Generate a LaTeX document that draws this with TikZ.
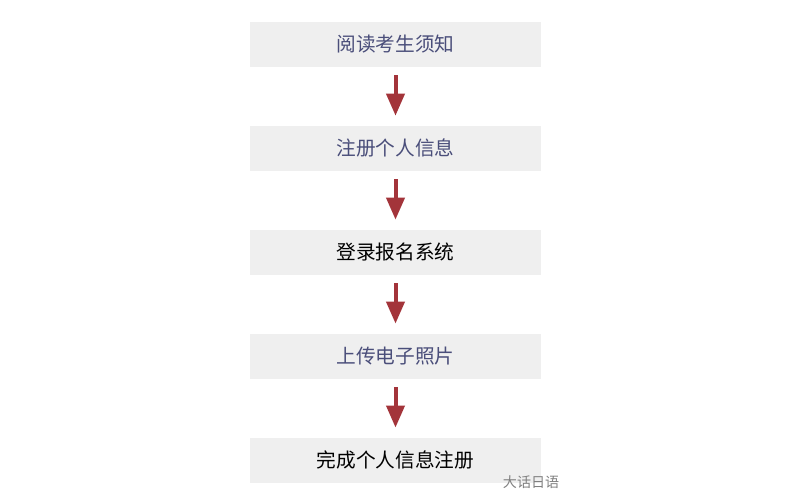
\documentclass[tikz,border=0pt]{standalone}
\usepackage{fontspec}
\newfontfamily\cjk{Noto Sans CJK SC}
\usetikzlibrary{positioning,arrows.meta}
\definecolor{boxgray}{HTML}{EFEFEF}
\definecolor{stepblue}{HTML}{4A4E7A}
\definecolor{arrowred}{HTML}{A3343A}
\begin{document}
\begin{tikzpicture}[
    stage/.style={fill=boxgray,minimum width=7.275cm,minimum height=1.125cm,inner sep=0pt,font=\cjk\fontsize{14}{16}\selectfont},
    flow/.style={draw=arrowred,line width=0.1cm,-{Triangle[length=0.55cm,width=0.45cm]},shorten <=0.2cm,shorten >=0.25cm}
  ]
  \useasboundingbox (0,0) rectangle (20,12.5);
  \node[stage,text=stepblue] (read) at (9.8875,11.3875) {阅读考生须知};
  \node[stage,text=stepblue,below=1.46cm of read] (info) {注册个人信息};
  \node[stage,text=black,below=1.46cm of info] (login) {登录报名系统};
  \node[stage,text=stepblue,below=1.46cm of login] (photo) {上传电子照片};
  \node[stage,text=black,below=1.46cm of photo] (done) {完成个人信息注册};
  \draw[flow] (read) -- (info);
  \draw[flow] (info) -- (login);
  \draw[flow] (login) -- (photo);
  \draw[flow] (photo) -- (done);
  % watermark
  \node[text=gray,font=\cjk\fontsize{10}{12}\selectfont,anchor=west] (mark) at (12.45,0.45) {大话日语};
\end{tikzpicture}
\end{document}
